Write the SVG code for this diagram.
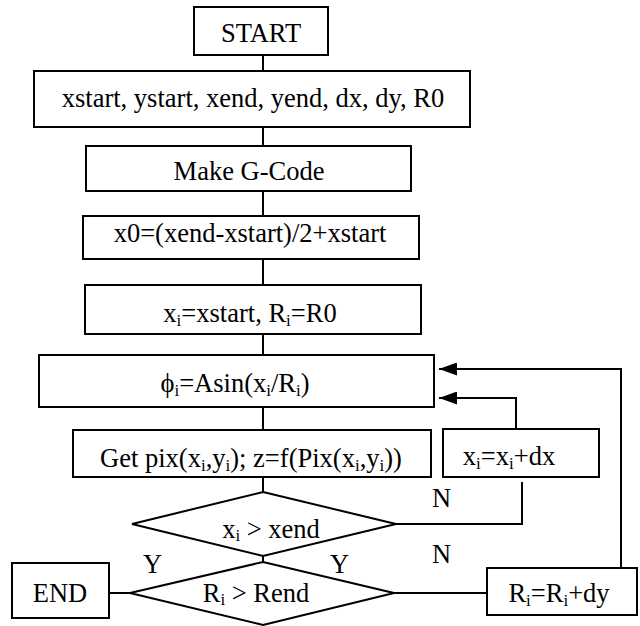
<svg xmlns="http://www.w3.org/2000/svg" width="640" height="626" viewBox="0 0 640 626">
  <style>
    .box { fill: #fff; stroke: #000; stroke-width: 2; }
    .wire { fill: none; stroke: #000; stroke-width: 2; }
    .t { font-family: "Liberation Serif", "Times New Roman", serif; font-size: 26.5px; fill: #000; }
    .c { text-anchor: middle; }
    .s { font-size: 17px; }
  </style>
  <defs>
    <marker id="arrow" markerUnits="userSpaceOnUse" markerWidth="18" markerHeight="13" refX="18" refY="6.5" orient="auto">
      <path d="M0,0 L18,6.5 L0,13 z" fill="#000"/>
    </marker>
  </defs>
  <rect width="640" height="626" fill="#fff"/>

  <g id="connectors">
    <line class="wire" x1="263" y1="55" x2="263" y2="71"/>
    <line class="wire" x1="263" y1="127" x2="263" y2="146"/>
    <line class="wire" x1="263" y1="191" x2="263" y2="216"/>
    <line class="wire" x1="263" y1="259" x2="263" y2="285"/>
    <line class="wire" x1="263" y1="334" x2="263" y2="355"/>
    <line class="wire" x1="263" y1="407" x2="263" y2="430"/>
    <line class="wire" x1="263" y1="477" x2="263" y2="492"/>
    <line class="wire" x1="263" y1="556" x2="263" y2="562"/>
    <polyline class="wire" points="396,524 522,524 522,482"/>
    <polyline class="wire" points="516,429 516,398 439,398" marker-end="url(#arrow)"/>
    <line class="wire" x1="394" y1="593" x2="487" y2="593"/>
    <polyline class="wire" points="621,568 621,369 439,369" marker-end="url(#arrow)"/>
    <line class="wire" x1="130" y1="593" x2="109" y2="593"/>
    <text class="t" x="432" y="507">N</text>
    <text class="t" x="432" y="563">N</text>
    <text class="t" x="143" y="573">Y</text>
    <text class="t" x="330" y="573">Y</text>
  </g>

  <g id="start">
    <rect class="box" x="194" y="7" width="134" height="48"/>
    <text class="t c" x="261" y="42">START</text>
  </g>
  <g id="inputs">
    <rect class="box" x="34" y="71" width="436" height="56"/>
    <text class="t c" x="253" y="107">xstart, ystart, xend, yend, dx, dy, R0</text>
  </g>
  <g id="make-gcode">
    <rect class="box" x="86" y="146" width="325" height="45"/>
    <text class="t c" x="249" y="180">Make G-Code</text>
  </g>
  <g id="x0">
    <rect class="box" x="83" y="216" width="336" height="43"/>
    <text class="t c" x="250" y="242">x0=(xend-xstart)/2+xstart</text>
  </g>
  <g id="init">
    <rect class="box" x="85" y="285" width="336" height="49"/>
    <text class="t c" x="250" y="322">x<tspan class="s" dy="4">i</tspan><tspan dy="-4">=xstart, R</tspan><tspan class="s" dy="4">i</tspan><tspan dy="-4">=R0</tspan></text>
  </g>
  <g id="phi">
    <rect class="box" x="39" y="355" width="395" height="52"/>
    <text class="t c" x="235" y="392">ϕ<tspan class="s" dy="4">i</tspan><tspan dy="-4">=Asin(x</tspan><tspan class="s" dy="4">i</tspan><tspan dy="-4">/R</tspan><tspan class="s" dy="4">i</tspan><tspan dy="-4">)</tspan></text>
  </g>
  <g id="get-pix">
    <rect class="box" x="73" y="430" width="358" height="47"/>
    <text class="t c" x="251" y="467">Get pix(x<tspan class="s" dy="4">i</tspan><tspan dy="-4">,y</tspan><tspan class="s" dy="4">i</tspan><tspan dy="-4">); z=f(Pix(x</tspan><tspan class="s" dy="4">i</tspan><tspan dy="-4">,y</tspan><tspan class="s" dy="4">i</tspan><tspan dy="-4">))</tspan></text>
  </g>
  <g id="step-x">
    <rect class="box" x="443" y="429" width="156" height="48"/>
    <text class="t c" x="509" y="465">x<tspan class="s" dy="4">i</tspan><tspan dy="-4">=x</tspan><tspan class="s" dy="4">i</tspan><tspan dy="-4">+dx</tspan></text>
  </g>
  <g id="test-x">
    <polygon class="box" points="263,492 396,524 263,556 132,524"/>
    <text class="t c" x="271" y="538">x<tspan class="s" dy="3">i</tspan><tspan dy="-3"> &gt; xend</tspan></text>
  </g>
  <g id="test-r">
    <polygon class="box" points="263,562 394,593 263,625 130,593"/>
    <text class="t c" x="256" y="602">R<tspan class="s" dy="3">i</tspan><tspan dy="-3"> &gt; Rend</tspan></text>
  </g>
  <g id="end">
    <rect class="box" x="12" y="563" width="97" height="55"/>
    <text class="t c" x="60" y="602">END</text>
  </g>
  <g id="step-r">
    <rect class="box" x="487" y="568" width="150" height="47"/>
    <text class="t c" x="559" y="602">R<tspan class="s" dy="4">i</tspan><tspan dy="-4">=R</tspan><tspan class="s" dy="4">i</tspan><tspan dy="-4">+dy</tspan></text>
  </g>
</svg>
